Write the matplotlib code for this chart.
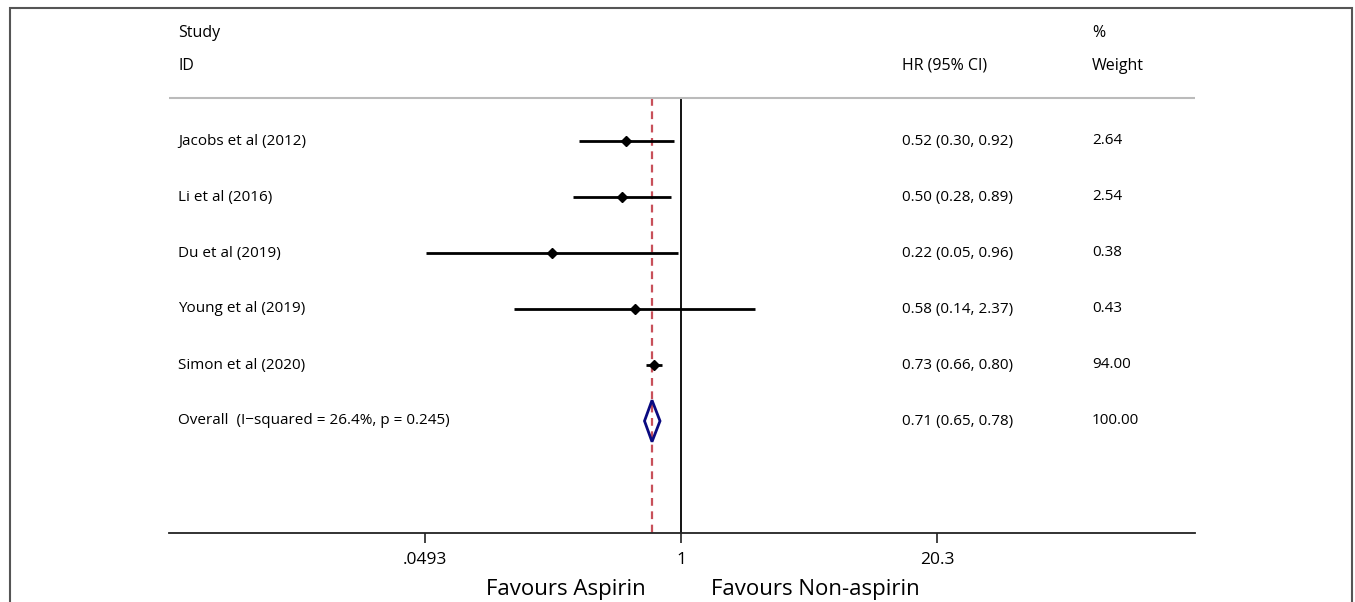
import numpy as np
import matplotlib
matplotlib.use("Agg")
import matplotlib.pyplot as plt
import matplotlib.transforms as mtransforms
from matplotlib.patches import Polygon, Rectangle

# Dati forest plot
studi = ["Jacobs et al (2012)", "Li et al (2016)", "Du et al (2019)",
         "Young et al (2019)", "Simon et al (2020)"]
hr = [0.52, 0.50, 0.22, 0.58, 0.73]
ci_low = [0.30, 0.28, 0.05, 0.14, 0.66]
ci_high = [0.92, 0.89, 0.96, 2.37, 0.80]
pesi = ["2.64", "2.54", "0.38", "0.43", "94.00"]

overall_label = "Overall  (I\u2212squared = 26.4%, p = 0.245)"
overall_hr, overall_low, overall_high = 0.71, 0.65, 0.78
overall_peso = "100.00"

xticks = [0.0493, 1, 20.3]
xtick_labels = [".0493", "1", "20.3"]
xlim = (np.exp(-6.02), np.exp(6.04))

FONT = "Open Sans"
plt.rcParams["font.family"] = [FONT, "DejaVu Sans"]

W, H = 1355, 602
fig = plt.figure(figsize=(W / 100, H / 100), dpi=100)
ax = fig.add_axes([169 / W, (H - 533) / H, (1195 - 169) / W, 532 / H])
ax.set_xscale("log")
ax.set_xlim(*xlim)
ax.set_ylim(7.0, -2.5)

trans = mtransforms.blended_transform_factory(ax.transAxes, ax.transData)

# righe studi
for i, (nome, h, lo, hi, p) in enumerate(zip(studi, hr, ci_low, ci_high, pesi)):
    ax.plot([lo, hi], [i, i], color="black", lw=2.0, solid_capstyle="butt", zorder=3)
    ax.plot(h, i, marker="D", color="black", ms=5, zorder=4)
    ax.text(0.0088, i, nome, transform=trans, ha="left", va="center", fontsize=11)
    ax.text(0.714, i, f"{h:.2f} ({lo:.2f}, {hi:.2f})", transform=trans,
            ha="left", va="center", fontsize=11)
    ax.text(0.8996, i, p, transform=trans, ha="left", va="center", fontsize=11)

# overall
yo = len(studi)
diamante = Polygon([[overall_low, yo], [overall_hr, yo - 0.37],
                    [overall_high, yo], [overall_hr, yo + 0.37]],
                   closed=True, fill=False, edgecolor="#0a0a80", lw=2.0, zorder=4)
ax.add_patch(diamante)
ax.text(0.0088, yo, overall_label, transform=trans, ha="left", va="center", fontsize=11)
ax.text(0.714, yo, f"{overall_hr:.2f} ({overall_low:.2f}, {overall_high:.2f})",
        transform=trans, ha="left", va="center", fontsize=11)
ax.text(0.8996, yo, overall_peso, transform=trans, ha="left", va="center", fontsize=11)

# linee di riferimento
ax.plot([1, 1], [-0.77, 7.0], color="black", lw=1.3, zorder=2)
ax.plot([overall_hr, overall_hr], [-0.77, 7.0], color="#c8505a", lw=1.6,
        ls=(0, (3.5, 2.5)), zorder=2)
ax.plot([0, 1], [-0.77, -0.77], transform=trans, color="#bbbbbb", lw=1.5)

# intestazioni
ax.text(0.0088, -1.93, "Study", transform=trans, ha="left", va="center", fontsize=11.5)
ax.text(0.0088, -1.34, "ID", transform=trans, ha="left", va="center", fontsize=11.5)
ax.text(0.714, -1.34, "HR (95% CI)", transform=trans, ha="left", va="center", fontsize=11.5)
ax.text(0.8996, -1.93, "%", transform=trans, ha="left", va="center", fontsize=11.5)
ax.text(0.8996, -1.34, "Weight", transform=trans, ha="left", va="center", fontsize=11.5)

# assi
for s in ["top", "left", "right"]:
    ax.spines[s].set_visible(False)
ax.spines["bottom"].set_color("#222222")
ax.spines["bottom"].set_linewidth(1.3)
ax.set_yticks([])
ax.set_xticks(xticks)
ax.set_xticklabels(xtick_labels, fontsize=12.5)
ax.xaxis.set_minor_locator(matplotlib.ticker.NullLocator())
ax.tick_params(axis="x", length=7, width=1.2, pad=7, color="#222222")

ax.text(0.465, -0.1165, "Favours Aspirin", transform=ax.transAxes,
        ha="right", va="baseline", fontsize=16)
ax.text(0.528, -0.1165, "Favours Non-aspirin", transform=ax.transAxes,
        ha="left", va="baseline", fontsize=16)

# cornice
fig.patches.append(Rectangle((10 / W, -0.1), (1352 - 10) / W, 1.1 - 8 / H,
                             transform=fig.transFigure, fill=False,
                             edgecolor="#555555", lw=1.5))

fig.savefig("out.png", dpi=100, facecolor="white")
